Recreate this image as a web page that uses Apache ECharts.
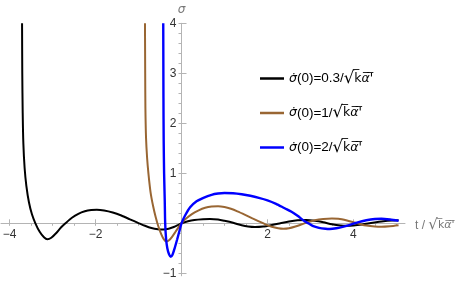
<!DOCTYPE html>
<html><head><meta charset="utf-8">
<script src="https://cdn.jsdelivr.net/npm/echarts@6/dist/echarts.min.js"></script>
<style>html,body{margin:0;padding:0;background:#fff}#c{width:465px;height:284px}</style>
</head><body><div id="c"></div>
<script>
// ---- data ----
const names = ["σ̇(0)=0.3/√kα'", "σ̇(0)=1/√kα'", "σ̇(0)=2/√kα'"];
const numerators = ['0.3', '1', '2'];
const colors = ["#000000", "#996633", "#0000ff"];

const blackT = [-3.71,-3.705,-3.695,-3.68,-3.65,-3.61,-3.55,-3.48,-3.40,-3.30,-3.20,-3.12,-3.03,-2.92,-2.80,-2.70,-2.55,-2.40,-2.25,-2.10,-1.97,-1.80,-1.60,-1.40,-1.20,-1.00,-0.85,-0.70,-0.55,-0.42,-0.30,-0.18,-0.08,0,0.15,0.30,0.50,0.66,0.85,1.00,1.20,1.40,1.55,1.71,1.90,2.10,2.30,2.50,2.70,2.90,3.10,3.30,3.50,3.70,3.85,4.00,4.20,4.45,4.70,4.90,5.05];
const blackS = [4.0,3.0,2.2,1.6,1.1,0.75,0.42,0.18,0.0,-0.17,-0.28,-0.32,-0.29,-0.2,-0.08,0.0,0.11,0.19,0.24,0.265,0.27,0.255,0.215,0.155,0.08,0.005,-0.05,-0.095,-0.12,-0.125,-0.11,-0.075,-0.035,0,0.04,0.065,0.08,0.085,0.075,0.05,0.01,-0.04,-0.065,-0.075,-0.065,-0.035,0.0,0.035,0.06,0.065,0.05,0.02,-0.02,-0.045,-0.05,-0.045,-0.025,0.01,0.04,0.055,0.06];

const brownT = [-0.85,-0.845,-0.84,-0.825,-0.80,-0.77,-0.72,-0.66,-0.60,-0.54,-0.47,-0.41,-0.35,-0.29,-0.22,-0.14,-0.07,0,0.10,0.25,0.40,0.55,0.70,0.85,1.00,1.15,1.30,1.48,1.65,1.80,1.95,2.10,2.25,2.37,2.50,2.65,2.80,2.95,3.10,3.30,3.50,3.65,3.85,4.00,4.15,4.30,4.50,4.65,4.85,5.05];
const brownS = [4.0,3.0,2.3,1.7,1.3,1.0,0.62,0.34,0.12,-0.06,-0.22,-0.32,-0.365,-0.34,-0.27,-0.17,-0.08,0,0.09,0.19,0.26,0.31,0.335,0.34,0.325,0.29,0.24,0.17,0.1,0.04,-0.02,-0.07,-0.10,-0.11,-0.10,-0.065,-0.02,0.025,0.06,0.085,0.095,0.09,0.055,0.02,-0.015,-0.045,-0.065,-0.07,-0.06,-0.04];

const blueT = [-0.425,-0.42,-0.415,-0.405,-0.39,-0.38,-0.36,-0.33,-0.29,-0.25,-0.21,-0.16,-0.10,-0.05,0,0.08,0.20,0.35,0.51,0.70,0.85,1.00,1.20,1.40,1.60,1.80,2.00,2.20,2.40,2.56,2.70,2.85,2.95,3.05,3.20,3.35,3.45,3.60,3.75,3.92,4.10,4.30,4.50,4.65,4.85,5.05];
const blueS = [4.0,2.5,1.67,1.0,0.45,0.0,-0.3,-0.5,-0.62,-0.67,-0.63,-0.5,-0.32,-0.16,0,0.15,0.32,0.44,0.51,0.57,0.595,0.605,0.60,0.58,0.55,0.51,0.46,0.39,0.30,0.23,0.15,0.05,0.0,-0.05,-0.09,-0.11,-0.115,-0.10,-0.07,-0.03,0.02,0.06,0.085,0.09,0.075,0.05];

const xLabelVals = [-4, -2, 2, 4];
const xMinorVals = [-4,-3.5,-3,-2.5,-2,-1.5,-1,-0.5,0.5,1,1.5,2,2.5,3,3.5,4,4.5,5];
const yLabelVals = [-1, 1, 2, 3, 4];
const yMinorVals = [-1,-0.8,-0.6,-0.4,-0.2,0.2,0.4,0.6,0.8,1,1.2,1.4,1.6,1.8,2,2.2,2.4,2.6,2.8,3,3.2,3.4,3.6,3.8,4];
const xRange = [-4.2, 5.2];
const yRange = [-1.05, 4];

function pairs(t, s) { return t.map((v, i) => [v, s[i]]); }
const seriesData = [pairs(blackT, blackS), pairs(brownT, brownS), pairs(blueT, blueS)];

// layout
const W = 465, H = 284;
const G = {left: 1, right: 60, top: 23.3, bottom: 8.2};
const plotW = W - G.left - G.right, plotH = H - G.top - G.bottom;
const zeroFromLeft = (0 - xRange[0]) / (xRange[1] - xRange[0]) * plotW;
const zeroFromBottom = (0 - yRange[0]) / (yRange[1] - yRange[0]) * plotH;

const axisGray = '#b4b4b4';
const labelColor = '#333';
const fam = '"Liberation Sans", Arial, sans-serif';
const dj = '"DejaVu Sans", sans-serif';
const OL = '\u0305';
function over(s) { return s.split('').map(ch => ch + OL).join(''); }
const fmt = v => (v < 0 ? '−' + Math.abs(v) : '' + v);

function richSet(size, color) {
  return {
    s: {fontFamily: dj, fontSize: size - 1, fontStyle: 'italic', color: color},
    t: {fontFamily: fam, fontSize: size, color: color},
    o: {fontFamily: dj, fontSize: size - 1, color: color},
    a: {fontFamily: dj, fontSize: size - 1, fontStyle: 'italic', color: color},
    r: {fontFamily: dj, fontSize: size + 3, color: color}
  };
}
const sqrtPart = '{r|√}{o|' + over('k') + '}{a|' + over('α') + '}{o|' + over("'") + '}';

const chart = echarts.init(document.getElementById('c'), null, {renderer: 'canvas'});
const xBase = {type: 'value', min: xRange[0], max: xRange[1], splitLine: {show: false}};
const yBase = {type: 'value', min: yRange[0], max: yRange[1], splitLine: {show: false}};
chart.setOption({
  animation: false,
  grid: Object.assign({containLabel: false, outerBoundsMode: 'none'}, G),
  legend: {
    orient: 'vertical', left: 255, top: 65, itemGap: 17.5,
    itemWidth: 24, itemHeight: 20,
    data: names.map(n => ({name: n, icon: 'path://M0,0 L24,0 L24,2.5 L0,2.5 Z'})),
    formatter: function (n) {
      const i = names.indexOf(n);
      return '{s|σ̇}{t|(0)=' + numerators[i] + '/}' + sqrtPart;
    },
    textStyle: {fontFamily: fam, fontSize: 13.5, color: '#000', rich: richSet(13.5, '#000')}
  },
  xAxis: [
    Object.assign({}, xBase, {
      name: '{t|t / }' + sqrtPart,
      nameLocation: 'end', nameGap: 10,
      nameTextStyle: {color: '#777', fontFamily: fam, fontSize: 12, padding: [4, 0, 0, 0], rich: richSet(12, '#777')},
      axisLine: {onZero: true, onZeroAxisIndex: 0, lineStyle: {color: axisGray, width: 1}},
      axisTick: {inside: true, length: 4, customValues: xLabelVals, lineStyle: {color: axisGray}},
      axisLabel: {show: false}
    }),
    Object.assign({}, xBase, {
      axisLine: {show: false, onZero: true, onZeroAxisIndex: 0},
      axisTick: {inside: true, length: 2.5, customValues: xMinorVals, lineStyle: {color: axisGray}},
      axisLabel: {show: false}
    }),
    Object.assign({}, xBase, {
      position: 'bottom', offset: -zeroFromBottom,
      axisLine: {show: false, onZero: false},
      axisTick: {show: false},
      axisLabel: {customValues: xLabelVals, color: labelColor, fontFamily: fam, fontSize: 12, margin: 5, formatter: fmt}
    })
  ],
  yAxis: [
    Object.assign({}, yBase, {
      name: 'σ', nameLocation: 'end', nameGap: 7,
      nameTextStyle: {color: '#777', fontFamily: dj, fontSize: 12, fontStyle: 'italic'},
      axisLine: {onZero: true, onZeroAxisIndex: 0, lineStyle: {color: axisGray, width: 1}},
      axisTick: {inside: true, length: 5, customValues: yLabelVals, lineStyle: {color: axisGray}},
      axisLabel: {show: false}
    }),
    Object.assign({}, yBase, {
      axisLine: {show: false, onZero: true, onZeroAxisIndex: 0},
      axisTick: {inside: true, length: 3, customValues: yMinorVals, lineStyle: {color: axisGray}},
      axisLabel: {show: false}
    }),
    Object.assign({}, yBase, {
      position: 'left', offset: -zeroFromLeft,
      axisLine: {show: false, onZero: false},
      axisTick: {show: false},
      axisLabel: {customValues: yLabelVals, color: labelColor, fontFamily: fam, fontSize: 12, margin: 5, formatter: fmt}
    })
  ],
  series: names.map((n, i) => ({
    name: n, type: 'line', data: seriesData[i], xAxisIndex: 0, yAxisIndex: 0,
    showSymbol: false, symbol: 'none', smooth: 0.25, clip: true,
    lineStyle: {color: colors[i], width: i === 2 ? 2.4 : 2},
    itemStyle: {color: colors[i]}, z: 3 + i
  }))
});
</script></body></html>
